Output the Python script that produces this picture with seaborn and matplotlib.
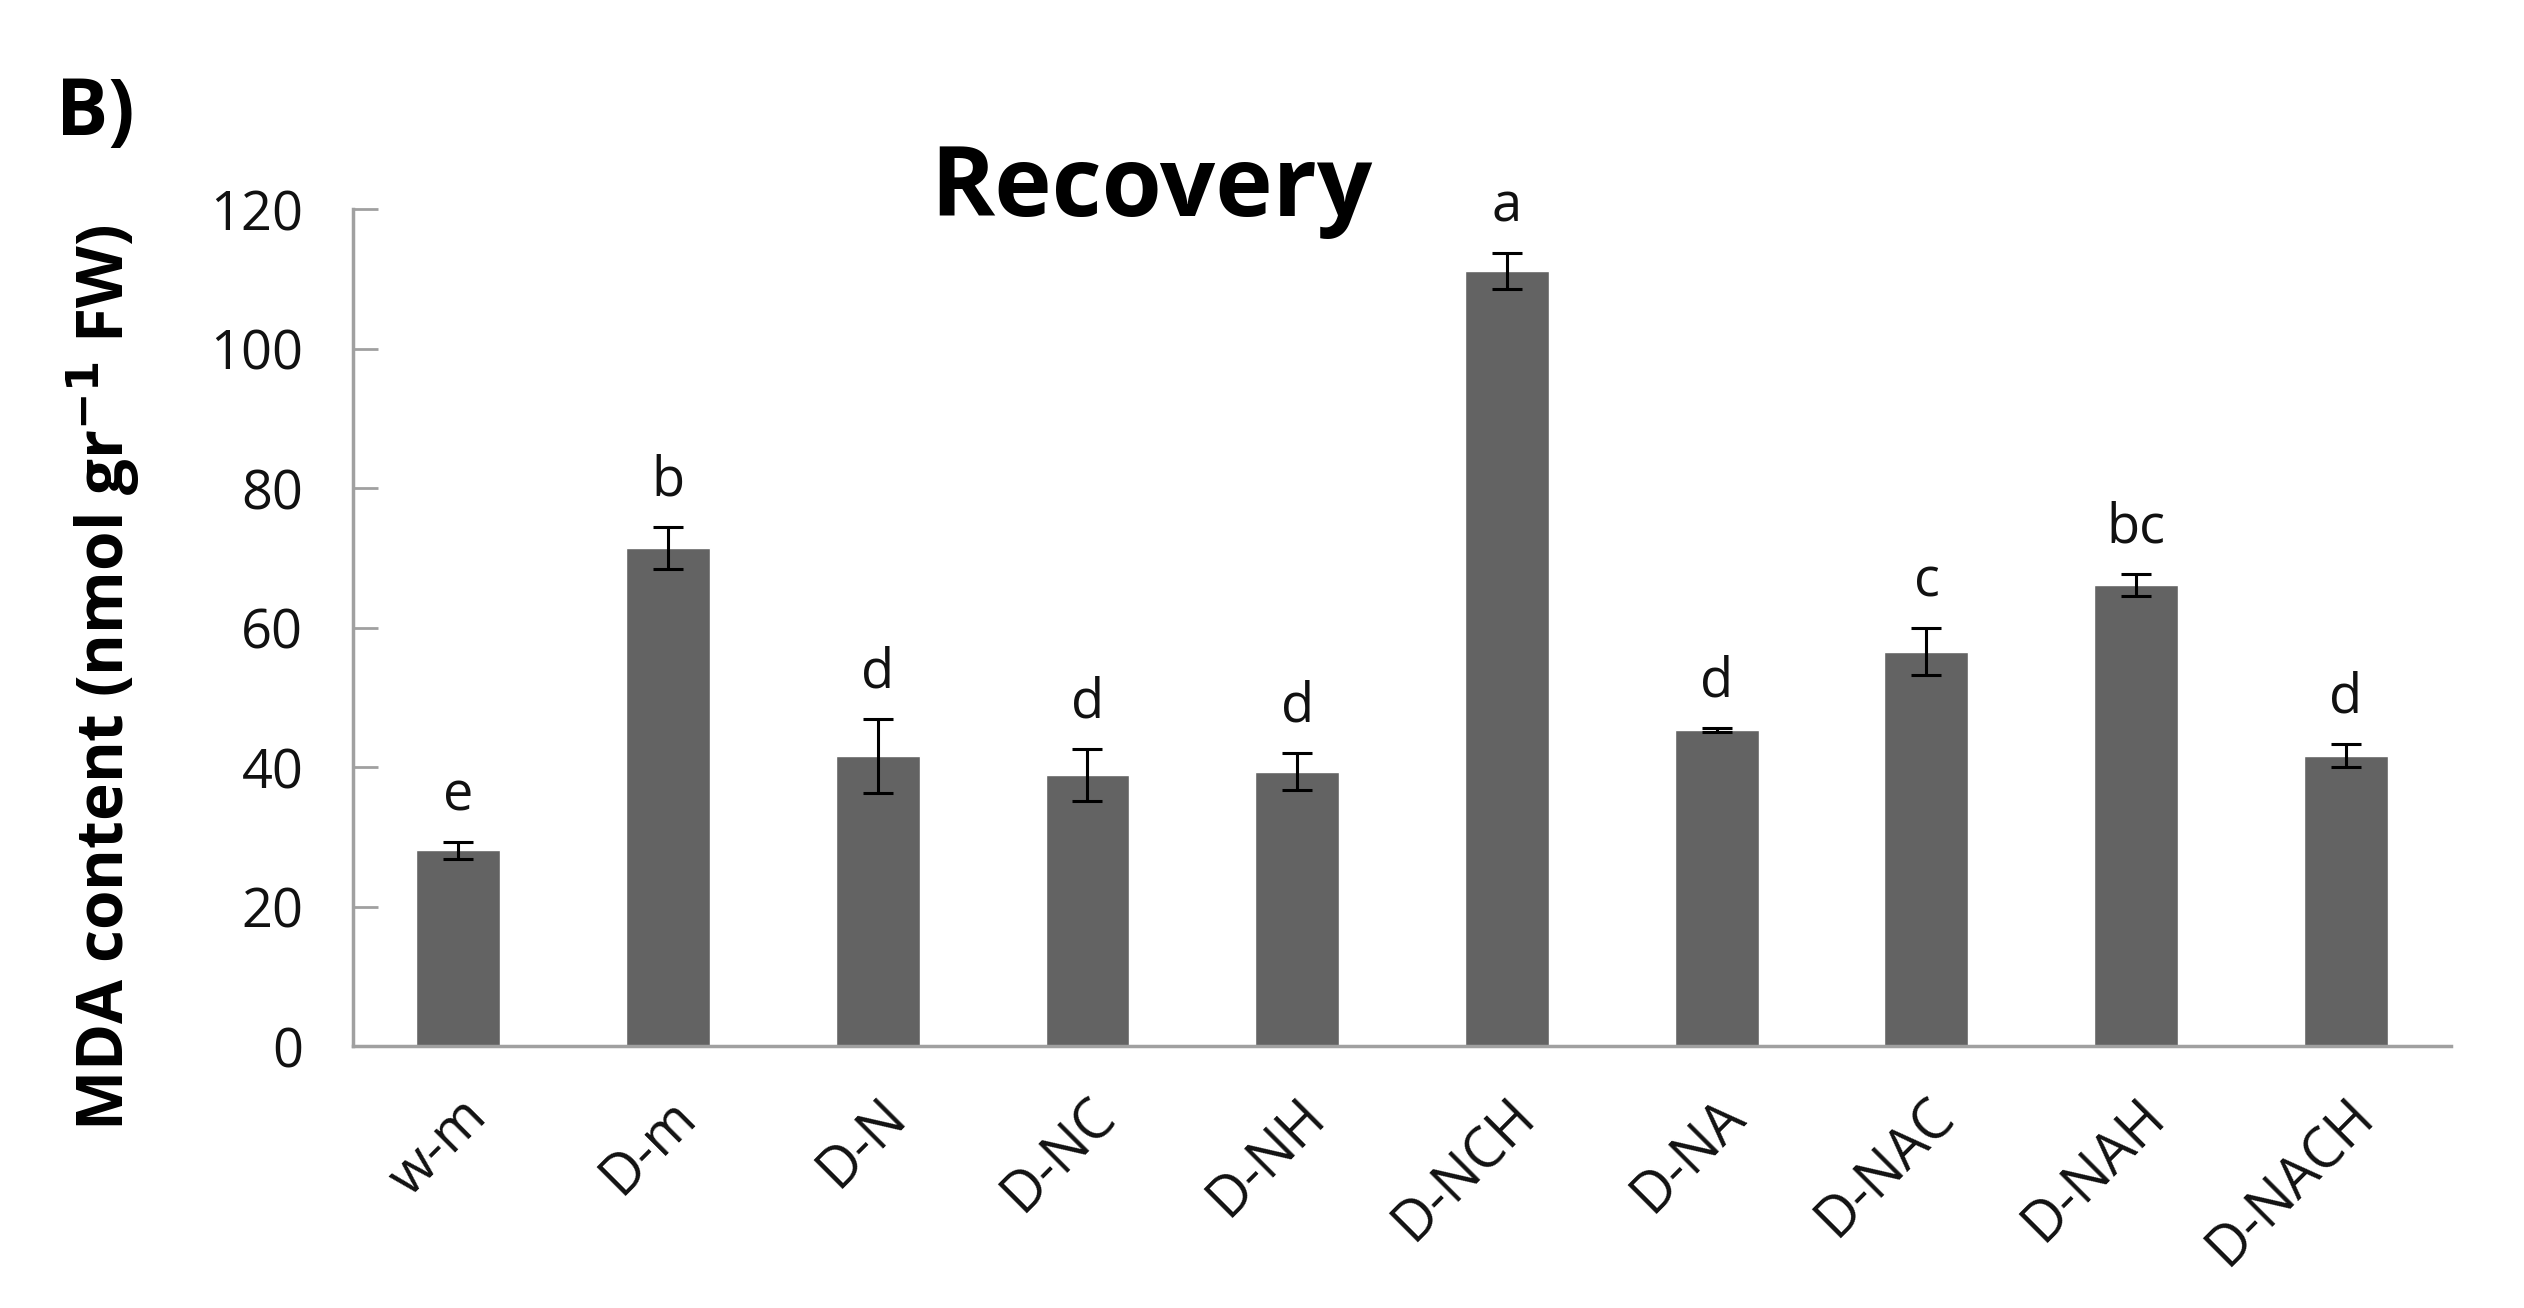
import numpy as np
import pandas as pd
import seaborn as sns
import matplotlib.pyplot as plt

# values
treatments = ["w-m", "D-m", "D-N", "D-NC", "D-NH", "D-NCH", "D-NA", "D-NAC", "D-NAH", "D-NACH"]
mda = [28.1, 71.4, 41.6, 38.9, 39.4, 111.2, 45.3, 56.6, 66.1, 41.7]
err = [1.2, 3.0, 5.3, 3.7, 2.7, 2.6, 0.3, 3.4, 1.6, 1.6]
letters = ["e", "b", "d", "d", "d", "a", "d", "c", "bc", "d"]

sns.set_theme(style="white")
plt.rcParams['font.family'] = ['Open Sans', 'DejaVu Sans']
plt.rcParams['text.color'] = 'black'
plt.rcParams['axes.labelcolor'] = 'black'
plt.rcParams['xtick.color'] = 'black'
plt.rcParams['ytick.color'] = 'black'

df = pd.DataFrame({"treatment": treatments, "mda": mda})

fig = plt.figure(figsize=(25.24, 13.08), dpi=100)
ax = fig.add_axes([0.140, 0.200, 0.831, 0.640])

sns.barplot(data=df, x="treatment", y="mda", color="#636363", saturation=1,
            width=0.4, errorbar=None, ax=ax)
ax.errorbar(range(len(treatments)), mda, yerr=err, fmt="none", ecolor="black",
            elinewidth=2.2, capsize=11, capthick=2.2)

# significance letters
for i, (v, e, lab) in enumerate(zip(mda, err, letters)):
    ax.text(i, v + e + 4.5, lab, ha="center", va="baseline", fontsize=39, color="#111111")

ax.set_ylim(0, 120)
ax.set_xlim(-0.5, 9.5)
ax.set_yticks(range(0, 121, 20))
ax.tick_params(axis="y", direction="in", length=18, width=2, color="#a0a0a0",
               labelcolor="#111111", labelsize=39, pad=36, left=True)
ax.tick_params(axis="x", length=0, labelsize=40, pad=30, labelcolor="#111111")
for lab in ax.get_xticklabels():
    lab.set_rotation(45)
    lab.set_ha("right")
    lab.set_rotation_mode("anchor")

for side in ["top", "right"]:
    ax.spines[side].set_visible(False)
for side in ["left", "bottom"]:
    ax.spines[side].set_color("#a0a0a0")
    ax.spines[side].set_linewidth(2.5)

ax.set_xlabel("")
ax.set_ylabel(r"MDA content (nmol gr$^{\mathbf{-1}}$ FW)", fontsize=46, fontweight="bold")
ax.yaxis.set_label_coords(-0.101, 0.44)

fig.text(0.456, 0.835, "Recovery", ha="center", va="baseline", fontsize=70, fontweight="bold")
fig.text(0.022, 0.897, "B)", ha="left", va="baseline", fontsize=56, fontweight="bold")

fig.savefig("out.png", dpi=100, facecolor="white")
